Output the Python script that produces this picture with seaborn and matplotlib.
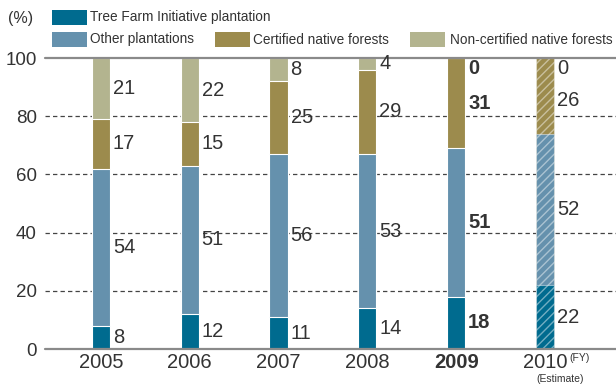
import numpy as np
import pandas as pd
import matplotlib
matplotlib.use("Agg")
import matplotlib.pyplot as plt
from matplotlib.patches import Rectangle
import seaborn as sns

years = ["2005", "2006", "2007", "2008", "2009", "2010"]
tree_farm = [8, 12, 11, 14, 18, 22]
other_plant = [54, 51, 56, 53, 51, 52]
certified = [17, 15, 25, 29, 31, 26]
non_certified = [21, 22, 8, 4, 0, 0]

series_names = ["Tree Farm Initiative plantation", "Other plantations",
                "Certified native forests", "Non-certified native forests"]
series_values = [tree_farm, other_plant, certified, non_certified]
colors = ["#006b8f", "#6591ad", "#9c8b4d", "#b3b48f"]
text_color = "#333333"

sns.set_theme(style="white")
plt.rcParams["font.family"] = ["Liberation Sans", "DejaVu Sans"]

fig = plt.figure(figsize=(6.16, 3.9), dpi=100)
ax = fig.add_axes([0.073, 0.105, 0.927, 0.746])

df = pd.DataFrame({"year": years})
cum = np.zeros(len(years))
cums = []
for vals in series_values:
    cum = cum + np.array(vals)
    cums.append(cum.copy())

# stacked bars: draw cumulative totals from the top layer down
for i in range(len(series_values) - 1, -1, -1):
    df["h"] = cums[i]
    sns.barplot(data=df, x="year", y="h", color=colors[i], saturation=1,
                width=0.205, edgecolor="white", linewidth=0.8, ax=ax, zorder=3)

# forecast year drawn with diagonal hatching
for cont in ax.containers:
    p = cont.patches[5]
    p.set_hatch("////")
    p.set_edgecolor((1, 1, 1, 0.45))

ax.set_xlim(-0.63, 5.8)
ax.set_ylim(0, 100)
ax.set_xlabel("")
ax.set_ylabel("")
for s in ax.spines.values():
    s.set_visible(False)

for y in [20, 40, 60, 80]:
    ax.axhline(y, color="#444444", lw=0.9, ls=(0, (3.5, 2.5)), zorder=1)
for y in [0, 100]:
    ax.axhline(y, color="#8a8a8a", lw=1.6, zorder=4, clip_on=False)

ax.set_yticks([0, 20, 40, 60, 80, 100])
ax.set_yticklabels(["0", "20", "40", "60", "80", "100"])
ax.tick_params(axis="y", length=0, pad=6, labelsize=13.5, labelcolor=text_color)
ax.tick_params(axis="x", length=0, pad=3, labelsize=14.5, labelcolor=text_color)
ax.set_xticks(range(len(years)))
ax.set_xticklabels(years)
for lbl in ax.get_xticklabels():
    if lbl.get_text() == "2009":
        lbl.set_fontweight("bold")

# value labels beside each segment
for j, yr in enumerate(years):
    bold = "bold" if yr == "2009" else "normal"
    bottom = 0
    top_zero = series_values[-1][j] == 0
    for i, vals in enumerate(series_values):
        v = vals[j]
        mid = bottom + v / 2
        if i == len(series_values) - 1 and v == 0:
            ypos = 96.5
        elif i == len(series_values) - 2 and top_zero:
            ypos = min(mid, 85.3)
        else:
            ypos = mid
        ax.text(j + 0.135, ypos, str(v), ha="left", va="center",
                fontsize=14.5, color=text_color, fontweight=bold, zorder=5)
        bottom += v

ax.text(5.27, -1.2, "(FY)", fontsize=7.5, color=text_color, ha="left", va="top",
        clip_on=False)
ax.text(5.17, -8.6, "(Estimate)", fontsize=7.5, color=text_color, ha="center",
        va="top", clip_on=False)

# legend
W, H = 616, 390
def px(x, y):
    return x / W, 1 - y / H

fig.text(*px(8, 18), "(%)", fontsize=11.5, color=text_color, va="center", ha="left")
legend_items = [(0, 52, 90, 17.5), (1, 52, 90, 39.5), (2, 215, 253, 39.5),
                (3, 410, 450, 39.5)]
for idx, rx, tx, yc in legend_items:
    x, y = px(rx, yc + 7.5)
    fig.patches.append(Rectangle((x, y), 35 / W, 15 / H, transform=fig.transFigure,
                                 facecolor=colors[idx], edgecolor="none"))
    fig.text(*px(tx, yc), series_names[idx], fontsize=9.8, color=text_color,
             va="center", ha="left")

fig.savefig("out.png", dpi=100)
